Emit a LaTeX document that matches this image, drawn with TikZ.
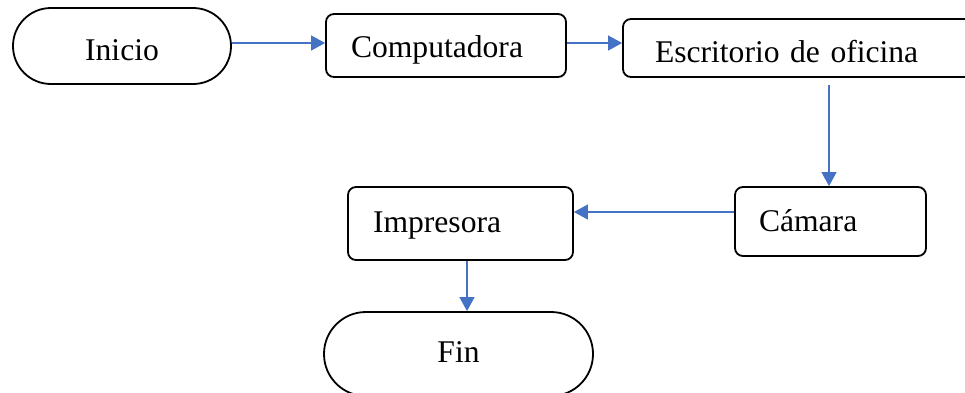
\documentclass[tikz,border=0pt]{standalone}
\usepackage{fontspec}
\setmainfont{Liberation Serif}
\usetikzlibrary{arrows.meta}
\definecolor{arrblue}{HTML}{4472C4}
\begin{document}
\begin{tikzpicture}[x=1pt,y=-1pt,
  txt/.style={font=\fontsize{31.6}{36}\selectfont,text depth=0pt},
  box/.style={txt,draw,line width=1.8pt,rounded corners=8pt,align=left,inner ysep=0pt},
  term/.style={txt,draw,line width=1.8pt,align=center,inner sep=0pt},
  arr/.style={draw=arrblue,line width=1.2pt,-{Triangle[length=14pt,width=15pt]}}]
\useasboundingbox (0,0) rectangle (965,392);
\clip (0,0) rectangle (965,392);
\node[term,minimum width=218pt,minimum height=76pt,rounded corners=37.9pt,text height=28pt] (ini) at (122,46) {Inicio};
\node[box,inner xsep=25pt,text width=190pt,minimum height=63pt,text height=23pt] (comp) at (446,45.5) {Computadora};
\node[box,inner xsep=32pt,text width=298pt,minimum height=58pt,text height=28pt] (esc) at (804,48) {Escritorio de oficina};
\node[box,inner xsep=24pt,text width=143pt,minimum height=69pt,text height=19pt] (cam) at (830.5,221.5) {Cámara};
\node[box,inner xsep=25pt,text width=175pt,minimum height=73pt,text height=17pt] (imp) at (460.5,223.5) {Impresora};
\node[term,minimum width=269pt,minimum height=84pt,rounded corners=41.9pt,text height=17pt] (fin) at (458.5,354) {Fin};
\coordinate (escout) at (829,85);
\draw[arr] ([yshift=3pt]ini.east) -- ([yshift=3pt]ini.east -| comp.west);
\draw[arr] ([yshift=2.5pt]comp.east) -- ([yshift=2.5pt]comp.east -| esc.west);
\draw[arr] (escout) -- (escout |- cam.north);
\draw[arr] ([yshift=9.5pt]cam.west) -- ([yshift=9.5pt]cam.west -| imp.east);
\draw[arr] ([xshift=6.5pt]imp.south) -- ([xshift=6.5pt]imp.south |- fin.north);
\end{tikzpicture}
\end{document}
